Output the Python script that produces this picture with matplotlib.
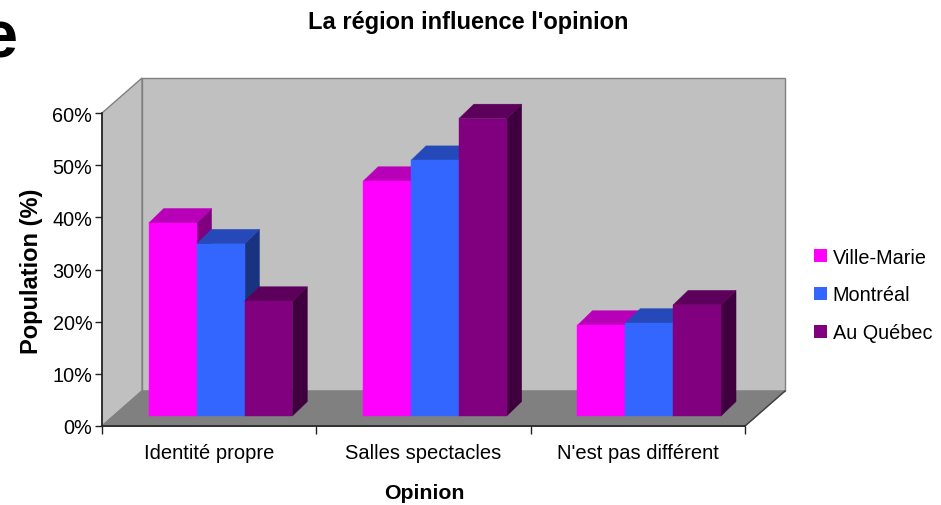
import numpy as np
import matplotlib
matplotlib.use('Agg')
import matplotlib.pyplot as plt
from matplotlib.patches import Polygon, Patch

plt.rcParams['font.family'] = ['Liberation Sans', 'DejaVu Sans']

categories = ['Identité propre', 'Salles spectacles', "N'est pas différent"]
series = ['Ville-Marie', 'Montréal', 'Au Québec']
ville_marie = [37, 45, 17.4]
montreal = [33, 49, 17.8]
au_quebec = [22, 57, 21.3]
values = [ville_marie, montreal, au_quebec]
colors = ['#FF00FF', '#3366FF', '#800080']
yticks = [0, 10, 20, 30, 40, 50, 60]


def shade(c, k):
    r, g, b = matplotlib.colors.to_rgb(c)
    return (r * k, g * k, b * k)


fig = plt.figure(figsize=(9.41, 5.06), dpi=100)
W, Hpx = 941, 506
# front plane of the plot area in pixels
left, right, bot, top = 102, 745, 427, 114
ax = fig.add_axes([left / W, 1 - bot / Hpx, (right - left) / W, (bot - top) / Hpx])
ax.set_xlim(-0.5, 2.5)
ax.set_ylim(0, 60)

px_x = (right - left) / 3.0        # pixels per category
px_y = (bot - top) / 60.0          # pixels per percent
D = 40 / px_x                      # wall depth in data units
H = 35 / px_y
ox, oy = 11.4 / px_x, 10 / px_y    # bar front face offset
bdx, bdy = 15 / px_x, 14.5 / px_y  # bar depth

# walls and floor
wall_kw = dict(clip_on=False, closed=True, lw=1)
ax.add_patch(Polygon([(-0.5 + D, H), (2.5 + D, H), (2.5 + D, 60 + H), (-0.5 + D, 60 + H)],
                     fc='#C0C0C0', ec='#808080', zorder=1, **wall_kw))
ax.add_patch(Polygon([(-0.5, 0), (-0.5 + D, H), (-0.5 + D, 60 + H), (-0.5, 60)],
                     fc='#C0C0C0', ec='#808080', zorder=1, **wall_kw))
ax.add_patch(Polygon([(-0.5, 0), (2.5, 0), (2.5 + D, H), (-0.5 + D, H)],
                     fc='#808080', ec='#808080', zorder=1.5, **wall_kw))
ax.plot([2.5, 2.5 + D], [0, H], color='#404040', lw=1, clip_on=False, zorder=1.6)

# bars
group = 0.67
bw = group / 3
for i in range(len(categories)):
    for j in range(len(series)):
        v = values[j][i]
        c = colors[j]
        x0 = i - group / 2 + j * bw + ox
        x1 = x0 + bw
        y0, y1 = oy, oy + v
        ax.add_patch(Polygon([(x1, y0), (x1 + bdx, y0 + bdy), (x1 + bdx, y1 + bdy), (x1, y1)],
                             fc=shade(c, 0.5), ec=shade(c, 0.5), lw=0.3, clip_on=False, zorder=3))
        ax.add_patch(Polygon([(x0, y1), (x1, y1), (x1 + bdx, y1 + bdy), (x0 + bdx, y1 + bdy)],
                             fc=shade(c, 0.72), ec=shade(c, 0.72), lw=0.3, clip_on=False, zorder=3))
        ax.add_patch(Polygon([(x0, y0), (x1, y0), (x1, y1), (x0, y1)],
                             fc=c, ec=c, lw=0.3, clip_on=False, zorder=3))

ax.patch.set_visible(False)
for s in ['top', 'right']:
    ax.spines[s].set_visible(False)
for s in ['left', 'bottom']:
    ax.spines[s].set_color('#202020')
    ax.spines[s].set_linewidth(1.2)
    ax.spines[s].set_zorder(2)

ax.set_yticks(yticks)
ax.set_yticklabels([f'{t}%' for t in yticks], fontsize=14.3)
ax.tick_params(axis='y', length=5, width=1, pad=2, color='#202020')
ax.set_xticks(range(len(categories)))
ax.set_xticklabels(categories, fontsize=14.5)
ax.set_xticks([-0.5, 0.5, 1.5, 2.5], minor=True)
ax.tick_params(axis='x', which='major', length=0, pad=12)
ax.tick_params(axis='x', which='minor', length=6, width=1, color='#202020')

fig.text(468 / W, 1 - 22 / Hpx, "La région influence l'opinion", ha='center', va='center',
         fontsize=17, fontweight='bold')
fig.text(424 / W, 1 - 494 / Hpx, 'Opinion', ha='center', va='center',
         fontsize=15.3, fontweight='bold')
fig.text(32 / W, 1 - 271 / Hpx, 'Population (%)', ha='center', va='center', rotation=90,
         fontsize=17, fontweight='bold')
fig.text(-20 / W, 1 - 40 / Hpx, 'e', ha='left', va='center', fontsize=48, fontweight='bold')

handles = [Patch(fc=c, ec='none') for c in colors]
fig.legend(handles, series, loc='center left', bbox_to_anchor=(814 / W, 1 - 296 / Hpx),
           frameon=False, fontsize=14.3, handlelength=0.65, handleheight=0.65,
           handletextpad=0.3, labelspacing=0.95, borderaxespad=0, borderpad=0)

fig.savefig('out.png', dpi=100)
